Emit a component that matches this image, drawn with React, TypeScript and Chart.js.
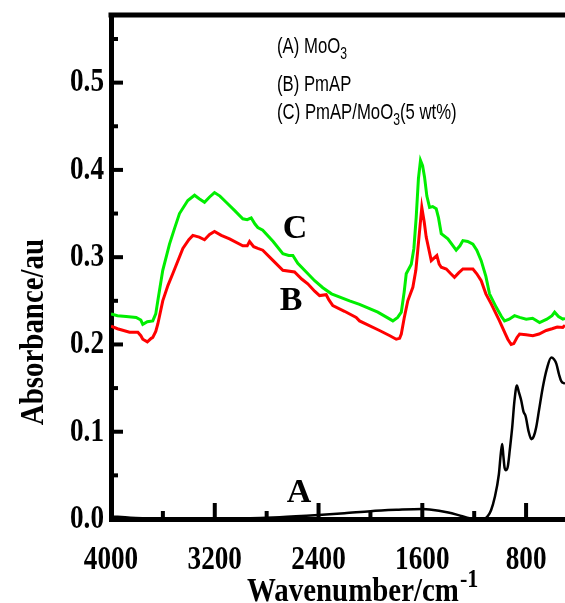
import React, { useEffect, useRef } from "react";
import { Chart, registerables } from "chart.js";

Chart.register(...registerables);

// ---- Data (wavenumber / cm^-1, absorbance / a.u.) ----
const WN_A = [4000, 3850, 3600, 3300, 3000, 2700, 2400, 2200, 2000, 1800, 1600, 1544, 1400, 1300, 1236, 1159, 1120, 1095, 1070, 1043, 1010, 995, 984, 975, 966, 955, 941, 925, 907, 890, 871, 855, 837, 820, 804, 780, 760, 740, 722, 700, 671, 640, 606, 585, 567, 545, 529, 500];
const ABS_A = [0.003, 0.0015, 0.0005, 0.0, 0.0005, 0.002, 0.0045, 0.0065, 0.009, 0.0105, 0.0115, 0.011, 0.0075, 0.0035, 0.001, 0.0, 0.0005, 0.0034, 0.01, 0.024, 0.051, 0.075, 0.086, 0.072, 0.059, 0.056, 0.06, 0.08, 0.105, 0.135, 0.153, 0.145, 0.1355, 0.123, 0.118, 0.1, 0.0915, 0.095, 0.105, 0.125, 0.151, 0.172, 0.185, 0.183, 0.178, 0.165, 0.158, 0.155];

const WN_B = [4000, 3950, 3857, 3793, 3770, 3755, 3720, 3690, 3678, 3655, 3639, 3601, 3560, 3524, 3446, 3400, 3369, 3320, 3279, 3240, 3202, 3150, 3086, 2984, 2950, 2932, 2900, 2868, 2830, 2750, 2675, 2585, 2530, 2483, 2430, 2392, 2341, 2320, 2290, 2200, 2110, 2084, 1930, 1850, 1801, 1775, 1762, 1740, 1712, 1673, 1650, 1635, 1604, 1585, 1570, 1531, 1510, 1488, 1470, 1454, 1415, 1380, 1352, 1320, 1287, 1210, 1180, 1146, 1110, 1069, 1005, 960, 941, 915, 895, 870, 850, 800, 748, 700, 645, 600, 560, 517, 500];
const ABS_B = [0.221, 0.218, 0.214, 0.214, 0.21, 0.206, 0.203, 0.207, 0.208, 0.215, 0.2235, 0.25, 0.268, 0.281, 0.31, 0.32, 0.325, 0.323, 0.32, 0.326, 0.3295, 0.325, 0.321, 0.313, 0.313, 0.318, 0.312, 0.31, 0.308, 0.296, 0.285, 0.283, 0.275, 0.2695, 0.261, 0.256, 0.257, 0.251, 0.2445, 0.238, 0.231, 0.227, 0.216, 0.21, 0.206, 0.207, 0.212, 0.23, 0.25, 0.2655, 0.285, 0.308, 0.357, 0.34, 0.323, 0.296, 0.299, 0.302, 0.292, 0.2885, 0.2865, 0.281, 0.277, 0.282, 0.2865, 0.2865, 0.281, 0.273, 0.258, 0.2465, 0.227, 0.212, 0.206, 0.2, 0.201, 0.208, 0.212, 0.211, 0.21, 0.212, 0.216, 0.218, 0.22, 0.2195, 0.222];

const WN_C = [4000, 3950, 3883, 3806, 3770, 3755, 3720, 3678, 3655, 3639, 3601, 3549, 3510, 3472, 3408, 3356, 3320, 3279, 3240, 3202, 3160, 3112, 3050, 2984, 2950, 2919, 2890, 2868, 2830, 2750, 2675, 2630, 2598, 2560, 2495, 2430, 2367, 2300, 2161, 2084, 1943, 1850, 1827, 1790, 1762, 1740, 1724, 1685, 1665, 1647, 1630, 1614, 1598, 1583, 1565, 1544, 1520, 1493, 1475, 1454, 1403, 1339, 1310, 1287, 1250, 1210, 1180, 1146, 1110, 1082, 1030, 990, 966, 930, 889, 850, 799, 750, 696, 640, 600, 580, 550, 517, 500];
const ABS_C = [0.235, 0.233, 0.232, 0.231, 0.228, 0.223, 0.226, 0.227, 0.235, 0.25, 0.285, 0.315, 0.333, 0.35, 0.365, 0.371, 0.367, 0.363, 0.369, 0.374, 0.37, 0.363, 0.354, 0.344, 0.343, 0.345, 0.338, 0.334, 0.331, 0.318, 0.304, 0.302, 0.302, 0.293, 0.283, 0.273, 0.265, 0.258, 0.25, 0.246, 0.237, 0.229, 0.227, 0.231, 0.237, 0.26, 0.281, 0.292, 0.31, 0.346, 0.39, 0.411, 0.405, 0.392, 0.37, 0.357, 0.358, 0.3555, 0.345, 0.327, 0.321, 0.308, 0.313, 0.319, 0.318, 0.315, 0.308, 0.296, 0.278, 0.258, 0.2425, 0.232, 0.227, 0.229, 0.233, 0.231, 0.229, 0.23, 0.225, 0.229, 0.233, 0.237, 0.232, 0.229, 0.23];

const X_TICKS = [4000, 3200, 2400, 1600, 800];
const X_MINOR_TICKS = [3600, 2800, 2000, 1200];
const Y_TICKS = [0, 0.1, 0.2, 0.3, 0.4, 0.5];
const Y_MINOR_TICKS = [0.05, 0.15, 0.25, 0.35, 0.45, 0.55];
const X_MIN = 500;
const X_MAX = 4000;
const Y_MIN = 0;
const Y_MAX = 0.5775;

const SERIES_NAMES = ["A", "B", "C"];
const LEGEND_ENTRIES = [
  { parts: ["(A) MoO", "3", ""] },
  { parts: ["(B) PmAP", "", ""] },
  { parts: ["(C) PmAP/MoO", "3", "(5 wt%)"] },
];
const X_TITLE = "Wavenumber/cm";
const X_TITLE_SUP = "-1";
const Y_TITLE = "Absorbance/au";

const SERIF = '"Liberation Serif", "Times New Roman", serif';
const SANS = '"Liberation Sans", Arial, sans-serif';

const toPoints = (xs: number[], ys: number[]) => xs.map((x, i) => ({ x, y: ys[i] }));

export default function App() {
  const ref = useRef<HTMLCanvasElement | null>(null);

  useEffect(() => {
    const canvas = ref.current;
    if (!canvas) return;
    const ctx = canvas.getContext("2d") as any;
    const orig = ctx.fillText;
    ctx.__sx = 0.8;
    // condensed text rendering (the reference uses a narrow typeface)
    ctx.fillText = function (text: string, x: number, y: number, maxWidth?: number) {
      const sx = this.__sx ?? 1;
      if (sx === 1) {
        return maxWidth === undefined ? orig.call(this, text, x, y) : orig.call(this, text, x, y, maxWidth);
      }
      this.save();
      this.translate(x, y);
      this.scale(sx, 1);
      if (maxWidth === undefined) orig.call(this, text, 0, 0);
      else orig.call(this, text, 0, 0, maxWidth / sx);
      this.restore();
    };

    const decor = {
      id: "decor",
      beforeDraw(chart: any) {
        (chart.ctx as any).__sx = 0.8;
      },
      afterDraw(chart: any) {
        const c = chart.ctx as any;
        const a = chart.chartArea;
        const xs = chart.scales.x;
        const ys = chart.scales.y;
        c.save();
        c.strokeStyle = "#000";
        c.lineCap = "butt";
        // top frame line
        c.lineWidth = 5;
        c.beginPath();
        c.moveTo(a.left - 2.5, a.top);
        c.lineTo(a.right, a.top);
        c.stroke();
        // inward ticks
        c.lineWidth = 4;
        const seg = (x1: number, y1: number, x2: number, y2: number) => {
          c.beginPath();
          c.moveTo(x1, y1);
          c.lineTo(x2, y2);
          c.stroke();
        };
        X_TICKS.forEach((v) => {
          if (v === X_MAX) return;
          const p = xs.getPixelForValue(v);
          seg(p, a.bottom, p, a.bottom - 16);
        });
        X_MINOR_TICKS.forEach((v) => {
          const p = xs.getPixelForValue(v);
          seg(p, a.bottom, p, a.bottom - 8);
        });
        Y_TICKS.forEach((v) => {
          if (v === Y_MIN) return;
          const p = ys.getPixelForValue(v);
          seg(a.left, p, a.left + 12, p);
        });
        Y_MINOR_TICKS.forEach((v) => {
          const p = ys.getPixelForValue(v);
          seg(a.left, p, a.left + 7, p);
        });

        c.fillStyle = "#000";
        // series labels on curves (placed in data coordinates)
        c.__sx = 1;
        c.font = `bold 34px ${SERIF}`;
        c.textAlign = "center";
        c.textBaseline = "alphabetic";
        const labelPos = [
          { wn: 2551, ab: 0.0195 },
          { wn: 2612, ab: 0.24 },
          { wn: 2582, ab: 0.322 },
        ];
        SERIES_NAMES.forEach((n, i) => {
          c.fillText(n, xs.getPixelForValue(labelPos[i].wn), ys.getPixelForValue(labelPos[i].ab));
        });

        // legend text block
        const legSx = 0.76;
        c.__sx = legSx;
        c.textAlign = "left";
        const legX = xs.getPixelForValue(2720);
        const legY = [0.5344, 0.4908, 0.4587];
        LEGEND_ENTRIES.forEach((e, i) => {
          let x = legX;
          const y = ys.getPixelForValue(legY[i]);
          c.font = `22px ${SANS}`;
          c.fillText(e.parts[0], x, y);
          x += c.measureText(e.parts[0]).width * legSx;
          if (e.parts[1]) {
            c.font = `16px ${SANS}`;
            c.fillText(e.parts[1], x, y + 6);
            x += c.measureText(e.parts[1]).width * legSx;
          }
          if (e.parts[2]) {
            c.font = `22px ${SANS}`;
            c.fillText(e.parts[2], x, y);
          }
        });

        // axis titles
        const tSx = 0.85;
        c.__sx = tSx;
        c.font = `bold 34px ${SERIF}`;
        c.textAlign = "left";
        c.textBaseline = "alphabetic";
        const tx = 247;
        c.fillText(X_TITLE, tx, 601);
        const tw = c.measureText(X_TITLE).width * tSx;
        c.font = `bold 26px ${SERIF}`;
        c.fillText(X_TITLE_SUP, tx + tw + 1, 587);

        c.save();
        c.translate(43, 332);
        c.rotate(-Math.PI / 2);
        c.font = `bold 34px ${SERIF}`;
        c.textAlign = "center";
        c.fillText(Y_TITLE, 0, 0);
        c.restore();

        c.__sx = 0.8;
        c.restore();
      },
    };

    const tickFont = { family: SERIF, size: 34, weight: "bold" as const };

    const chart = new Chart(canvas, {
      type: "line",
      data: {
        datasets: [
          {
            label: "A",
            data: toPoints(WN_A, ABS_A),
            borderColor: "#000000",
            borderWidth: 2.5,
            cubicInterpolationMode: "monotone",
            pointRadius: 0,
          },
          {
            label: "B",
            data: toPoints(WN_B, ABS_B),
            borderColor: "#ff0000",
            borderWidth: 3,
            tension: 0,
            pointRadius: 0,
          },
          {
            label: "C",
            data: toPoints(WN_C, ABS_C),
            borderColor: "#00ee00",
            borderWidth: 3,
            tension: 0,
            pointRadius: 0,
          },
        ],
      },
      options: {
        animation: false,
        responsive: false,
        parsing: false as any,
        layout: { padding: { top: 15, right: 0, bottom: 0, left: 0 } },
        plugins: { legend: { display: false }, tooltip: { enabled: false } },
        scales: {
          x: {
            type: "linear",
            reverse: true,
            min: X_MIN,
            max: X_MAX,
            afterBuildTicks: (s: any) => {
              s.ticks = X_TICKS.map((v) => ({ value: v }));
            },
            afterFit: (s: any) => {
              s.height = 84;
              s.paddingLeft = 0;
              s.paddingRight = 0;
            },
            grid: { display: false, drawTicks: false },
            border: { display: true, color: "#000", width: 5 },
            ticks: {
              color: "#000",
              font: tickFont,
              padding: 21,
              maxRotation: 0,
              autoSkip: false,
              callback: (v: any) => String(v),
            },
          },
          y: {
            type: "linear",
            min: Y_MIN,
            max: Y_MAX,
            afterBuildTicks: (s: any) => {
              s.ticks = Y_TICKS.map((v) => ({ value: v }));
            },
            afterFit: (s: any) => {
              s.width = 111;
              s.paddingTop = 0;
              s.paddingBottom = 0;
            },
            grid: { display: false, drawTicks: false },
            border: { display: true, color: "#000", width: 5 },
            ticks: {
              color: "#000",
              font: tickFont,
              padding: 7,
              autoSkip: false,
              callback: (v: any) => Number(v).toFixed(1),
            },
          },
        },
      },
      plugins: [decor],
    });

    return () => {
      chart.destroy();
      ctx.fillText = orig;
    };
  }, []);

  return (
    <div style={{ position: "absolute", left: 0, top: 0, width: 565, height: 603, background: "#fff" }}>
      <canvas ref={ref} width={565} height={603} style={{ display: "block", width: 565, height: 603 }} />
    </div>
  );
}
